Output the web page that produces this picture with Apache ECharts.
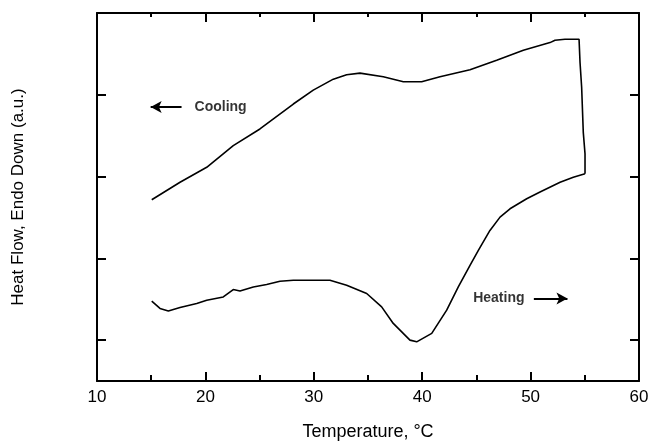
<!DOCTYPE html>
<html>
<head>
<meta charset="utf-8">
<script src="https://cdn.jsdelivr.net/npm/echarts@6/dist/echarts.min.js"></script>
<style>
html,body{margin:0;padding:0;background:#fff;}
#chart{width:649px;height:443px;}
</style>
</head>
<body>
<div id="chart"></div>
<script>
// Temperature (°C) and heat flow (a.u.)
var coolingT = [15.05,17.66,20.12,22.57,25.03,28.11,29.95,31.80,33.03,34.26,36.41,38.26,39.95,41.64,44.41,46.87,49.33,51.79,52.25,53.17,54.47,54.56,54.71,54.86,55.02,55.02];
var coolingHF = [1.716,1.930,2.113,2.378,2.582,2.887,3.057,3.191,3.244,3.265,3.220,3.159,3.159,3.220,3.305,3.423,3.545,3.638,3.667,3.679,3.679,3.394,3.089,2.540,2.277,2.033];
var heatingT = [15.05,15.81,16.58,17.66,19.20,20.12,21.65,22.57,23.19,24.42,25.65,26.88,28.11,31.49,33.03,34.88,36.26,37.33,38.87,39.49,40.88,42.26,43.33,44.41,45.18,46.25,47.18,48.10,49.64,50.87,52.72,53.94,55.02];
var heatingHF = [0.476,0.387,0.357,0.399,0.448,0.488,0.528,0.618,0.601,0.650,0.679,0.720,0.732,0.732,0.671,0.570,0.406,0.204,0.000,-0.021,0.082,0.366,0.650,0.915,1.098,1.341,1.504,1.606,1.728,1.811,1.930,1.991,2.033];
var xTicks = [10,20,30,40,50,60];
var yTickValues = [0,1,2,3];
var annotationText = ['Cooling','Heating'];
var annotationT = [19.0,44.7];
var annotationHF = [2.85,0.51];
var coolArrowT = [17.8,14.95];
var heatArrowT = [50.3,53.4];
var arrowHF = [2.85,0.51];

function pairs(xs, ys){ return xs.map(function(x,i){return [x, ys[i]];}); }

var chart = echarts.init(document.getElementById('chart'), null, {renderer:'canvas'});
var font = 'Liberation Sans, Arial, sans-serif';
var axisCommon = {
  axisLine:{show:true, onZero:false, lineStyle:{color:'#000', width:2}},
  splitLine:{show:false}
};
chart.setOption({
  animation:false,
  backgroundColor:'#fff',
  grid:{left:97, right:10, top:13, bottom:62, containLabel:false, outerBoundsMode:'none'},
  xAxis:[
    Object.assign({}, axisCommon, {
      type:'value', min:10, max:60, interval:10, position:'bottom',
      axisTick:{show:true, inside:true, length:9, lineStyle:{color:'#000', width:2}},
      minorTick:{show:true, splitNumber:2, length:6, lineStyle:{color:'#000', width:2}},
      axisLabel:{show:true, color:'#000', fontSize:17, fontFamily:font, margin:8,
        customValues: xTicks},
      name:'Temperature, °C', nameLocation:'middle', nameGap:42,
      nameTextStyle:{color:'#000', fontSize:18, fontFamily:font}
    }),
    Object.assign({}, axisCommon, {
      type:'value', min:10, max:60, interval:10, position:'top',
      axisTick:{show:true, inside:true, length:9, lineStyle:{color:'#000', width:2}},
      minorTick:{show:true, splitNumber:2, length:4, lineStyle:{color:'#000', width:2}},
      axisLabel:{show:false}
    })
  ],
  yAxis:[
    Object.assign({}, axisCommon, {
      type:'value', min:-0.5, max:4, position:'left',
      axisTick:{show:true, inside:true, length:9, customValues:yTickValues, lineStyle:{color:'#000', width:2}},
      axisLabel:{show:false},
      name:'Heat Flow, Endo Down (a.u.)', nameLocation:'middle', nameGap:70,
      nameTextStyle:{color:'#000', fontSize:17, fontFamily:font}
    }),
    Object.assign({}, axisCommon, {
      type:'value', min:-0.5, max:4, position:'right',
      axisTick:{show:true, inside:true, length:9, customValues:yTickValues, lineStyle:{color:'#000', width:2}},
      axisLabel:{show:false}
    })
  ],
  series:[
    {type:'line', name:'Cooling', data:pairs(coolingT, coolingHF), showSymbol:false, symbol:'none',
     lineStyle:{color:'#000', width:1.6}, z:3},
    {type:'line', name:'Heating', data:pairs(heatingT, heatingHF), showSymbol:false, symbol:'none',
     lineStyle:{color:'#000', width:1.6}, z:3,
     markLine:{silent:true, symbol:['none','arrow'], symbolSize:[9,11],
       lineStyle:{color:'#000', width:2, type:'solid'}, label:{show:false},
       data:[
         [{coord:[coolArrowT[0], arrowHF[0]]},{coord:[coolArrowT[1], arrowHF[0]]}],
         [{coord:[heatArrowT[0], arrowHF[1]]},{coord:[heatArrowT[1], arrowHF[1]]}]
       ]}
    },
    {type:'scatter', name:'labels', symbolSize:0, silent:true,
     data:annotationText.map(function(t,i){return {value:[annotationT[i], annotationHF[i]], name:t};}),
     label:{show:true, position:'right', distance:0, formatter:function(p){return p.name;},
       color:'#000', fontSize:14, fontWeight:'bold', fontFamily:font}
    }
  ]
});
</script>
</body>
</html>
